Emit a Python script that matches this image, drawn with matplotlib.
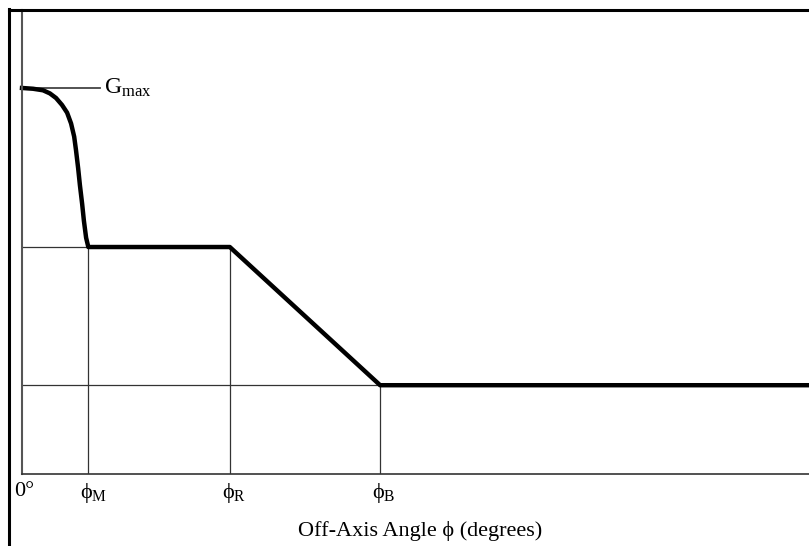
import matplotlib
matplotlib.use("Agg")
import matplotlib.pyplot as plt
from matplotlib.lines import Line2D

plt.rcParams['font.family'] = ['Liberation Serif', 'DejaVu Serif']
plt.rcParams['mathtext.fontset'] = 'custom'
plt.rcParams['mathtext.rm'] = 'Liberation Serif'
plt.rcParams['mathtext.it'] = 'Liberation Serif:italic'

# gain envelope (angle in degrees, gain in dB)
angle_lobe = [0, 2.5, 4.75, 6.3, 7.7, 9.05, 10.2, 11.1, 11.8, 12.2, 12.7,
              13.1, 13.6, 14.0, 14.5, 15.0]
gain_lobe = [50.0, 49.9, 49.7, 49.3, 48.7, 47.8, 46.8, 45.4, 43.7, 42.0, 39.6,
             37.4, 35.0, 32.8, 30.6, 29.4]
phi_M = 15.0
phi_R = 47.0
phi_B = 81.0
phi_end = 178.0
g_max = 50.0
g_side = 29.4
g_back = 11.5
gmax_leader = 17.6

tick_pos = [phi_M, phi_R, phi_B]
tick_names = ['M', 'R', 'B']

fig = plt.figure(figsize=(8.09, 5.46), dpi=100)
W, H = 809, 546
ax = fig.add_axes([22 / W, (H - 474) / H, 1 - 22 / W, (474 - 10) / H])
ax.set_xlim(0, phi_end)
ax.set_ylim(0, 60.1)

for s in ['top', 'right']:
    ax.spines[s].set_visible(False)
ax.spines['left'].set_color('#555555')
ax.spines['left'].set_linewidth(1.5)
ax.spines['bottom'].set_color('#333333')
ax.spines['bottom'].set_linewidth(1.2)
ax.set_xticks([])
ax.set_yticks([])

thin = dict(color='#333333', lw=0.9)
# reference levels
ax.plot([0, phi_R], [g_side, g_side], **thin)
ax.plot([0, phi_B], [g_back, g_back], **thin)
ax.plot([phi_M, phi_M], [0, g_side], **thin)
ax.plot([phi_R, phi_R], [0, g_side], **thin)
ax.plot([phi_B, phi_B], [0, g_back], **thin)
ax.plot([0, gmax_leader], [g_max, g_max], color='#444444', lw=1.3)

# envelope
xs = angle_lobe + [phi_R, phi_B, phi_end]
ys = gain_lobe + [g_side, g_back, g_back]
ax.plot(xs, ys, color='black', lw=3.2, solid_joinstyle='round', clip_on=False)

ax.text(gmax_leader + 1.0, g_max, r'$\mathrm{G_{max}}$', fontsize=17,
        va='center', ha='left')

# tick labels
ax.annotate('0°', (0, 0), xytext=(-8, -17), textcoords='offset pixels',
            fontsize=16, ha='left', va='center', annotation_clip=False)
for p, n in zip(tick_pos, tick_names):
    ax.annotate('ϕ$_\\mathrm{' + n + '}$', (p, 0), xytext=(-8, -19),
                textcoords='offset pixels', fontsize=16, ha='left',
                va='center', annotation_clip=False)
ax.annotate('180°', (phi_end, 0), xytext=(7, -17), textcoords='offset pixels',
            fontsize=16, ha='left', va='center', annotation_clip=False)

ax.annotate('Off-Axis Angle ϕ (degrees)', (0.5, 0), xycoords='axes fraction',
            xytext=(5, -57), textcoords='offset pixels', fontsize=16,
            ha='center', va='center', annotation_clip=False)

# scanned page frame
fig.add_artist(Line2D([9 / W, 9 / W], [0, 1 - 9 / H], color='black', lw=2.2))
fig.add_artist(Line2D([9 / W, 1], [1 - 9.5 / H, 1 - 9.5 / H], color='black', lw=2.2))

fig.savefig('out.png', dpi=100)
